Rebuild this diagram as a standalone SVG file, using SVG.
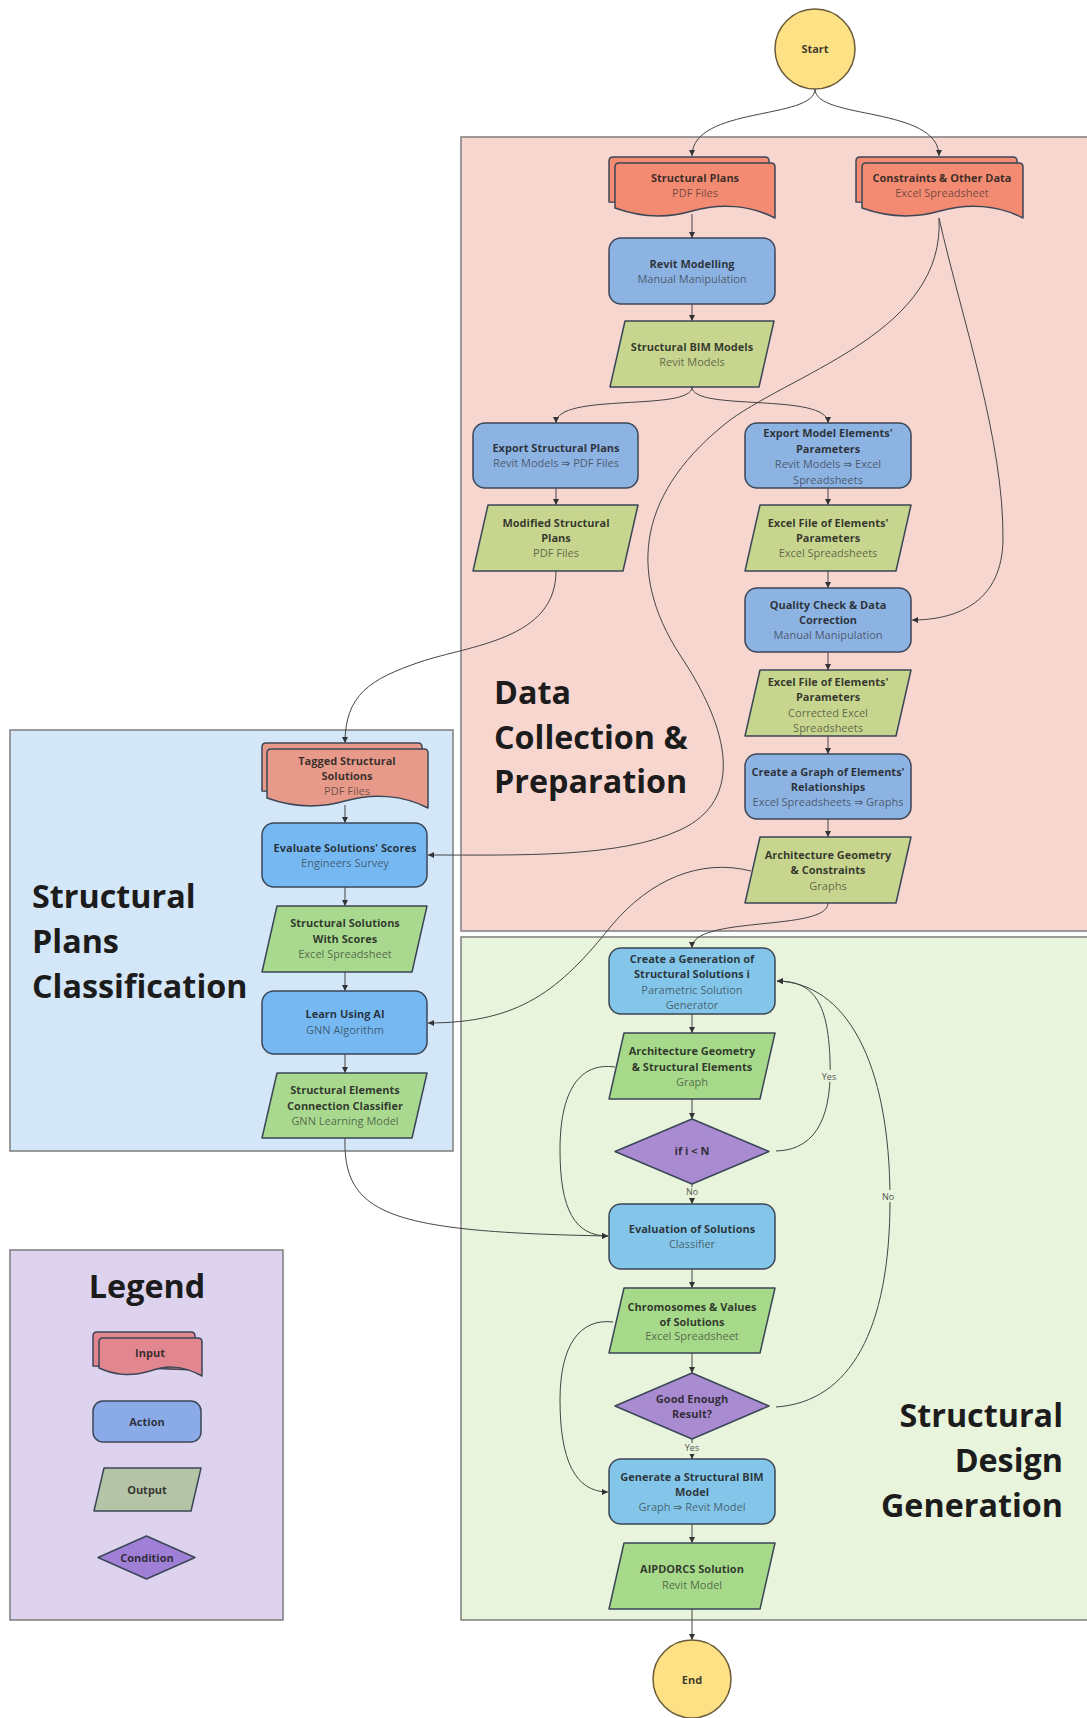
<svg xmlns="http://www.w3.org/2000/svg" width="1087" height="1718" viewBox="0 0 1087 1718">
<defs>
<marker id="arr" viewBox="0 0 6 6" refX="6" refY="3" markerWidth="6" markerHeight="6" markerUnits="userSpaceOnUse" orient="auto">
<path d="M0,0 L6,3 L0,6 Z" fill="#333"/>
</marker>
<style>
.region{stroke:#7d7d7d;stroke-width:1.5}
.title{font-family:"Open Sans","Liberation Sans",sans-serif;font-weight:700;font-size:32.3px;fill:#1c1c1c}
.shape{stroke:#3b4657;stroke-width:1.5;stroke-linejoin:round}
.t{font-family:"Open Sans","Liberation Sans",sans-serif;font-weight:700;font-size:11px;fill:#1a1a1a;fill-opacity:0.85;text-anchor:middle}
.s{font-family:"Open Sans","Liberation Sans",sans-serif;font-size:11px;fill:#1a1a1a;fill-opacity:0.62;text-anchor:middle}
.lbl{font-family:"Open Sans","Liberation Sans",sans-serif;font-size:9px;fill:#555;text-anchor:middle}
.c{fill:none;stroke:#444;stroke-width:1}
.inp{fill:#F38B72}
.inpb{fill:#E89A8A}
.actp{fill:#8DB3E2}
.actb{fill:#76B9F2}
.actg{fill:#84C6E9}
.outp{fill:#C7D58F}
.outb{fill:#A9D98F}
.outg{fill:#A7D98B}
.cond{fill:#A98BD1}
.term{fill:#FDE184;stroke:#6b5b3a;stroke-width:1.5}
</style>
</defs>

<rect width="1087" height="1718" fill="#ffffff"/>

<!-- regions -->
<g id="region-data">
<rect class="region" x="461" y="137" width="627" height="794" fill="#F8D6D0"/>
<text class="title" x="494" y="704">Data</text>
<text class="title" x="494" y="749">Collection &amp;</text>
<text class="title" x="494" y="793">Preparation</text>
</g>
<g id="region-generation">
<rect class="region" x="461" y="937" width="627" height="683" fill="#E8F4DB"/>
<text class="title" x="1063" y="1427" text-anchor="end">Structural</text>
<text class="title" x="1063" y="1472" text-anchor="end">Design</text>
<text class="title" x="1063" y="1517" text-anchor="end">Generation</text>
</g>
<g id="region-classification">
<rect class="region" x="10" y="730" width="443" height="421" fill="#D4E7F9"/>
<text class="title" x="32" y="908">Structural</text>
<text class="title" x="32" y="953">Plans</text>
<text class="title" x="32" y="998">Classification</text>
</g>
<g id="legend">
<rect class="region" x="10" y="1250" width="273" height="370" fill="#DDD3EE"/>
<text class="title" x="147" y="1298" text-anchor="middle">Legend</text>
<g id="legend-input">
<path class="shape" fill="#E2878F" d="M93,1336 Q93,1332 97,1332 L191,1332 Q195,1332 195,1336 L195,1370 L93,1366 Z"/>
<path class="shape" fill="#E2878F" d="M99,1342 Q99,1338 103,1338 L198,1338 Q202,1338 202,1342 L202,1376 C180,1364 165,1366 150,1371 C130,1377 115,1375 99,1368 Z"/>
<text class="t" x="150" y="1357">Input</text>
</g>
<g id="legend-action">
<rect class="shape" fill="#8AAAE8" x="93" y="1401" width="108" height="41" rx="10"/>
<text class="t" x="147" y="1426">Action</text>
</g>
<g id="legend-output">
<path class="shape" fill="#B5C4A6" d="M104,1468 L201,1468 L191,1511 L94,1511 Z"/>
<text class="t" x="147" y="1494">Output</text>
</g>
<g id="legend-condition">
<path class="shape" fill="#A07FD6" d="M146.5,1536 L195,1557.5 L146.5,1579 L98,1557.5 Z"/>
<text class="t" x="147" y="1562">Condition</text>
</g>
</g>

<!-- connectors -->
<g id="connectors">
<path class="c" marker-end="url(#arr)" d="M815,89 C815,120 692,106 692,156"/>
<path class="c" marker-end="url(#arr)" d="M815,89 C815,120 939,106 939,156"/>
<path class="c" marker-end="url(#arr)" d="M692,214 L692,238"/>
<path class="c" marker-end="url(#arr)" d="M692,304 L692,321"/>
<path class="c" marker-end="url(#arr)" d="M692,387 C692,412 556,392 556,423"/>
<path class="c" marker-end="url(#arr)" d="M692,387 C692,412 828,392 828,423"/>
<path class="c" marker-end="url(#arr)" d="M556,488 L556,505"/>
<path class="c" marker-end="url(#arr)" d="M828,488 L828,505"/>
<path class="c" marker-end="url(#arr)" d="M828,571 L828,588"/>
<path class="c" marker-end="url(#arr)" d="M828,652 L828,670"/>
<path class="c" marker-end="url(#arr)" d="M828,736 L828,754"/>
<path class="c" marker-end="url(#arr)" d="M828,819 L828,837"/>
<path class="c" marker-end="url(#arr)" d="M939,218 C962,320 1004,440 1003,540 C1002,600 960,620 912,620"/>
<path class="c" marker-end="url(#arr)" d="M939,218 C945,330 800,370 730,420 C640,490 625,570 680,655 C730,730 745,800 680,830 C620,858 520,855 428,855"/>
<path class="c" marker-end="url(#arr)" d="M556,571 C556,640 470,645 420,662 C370,679 345,695 345,743"/>
<path class="c" marker-end="url(#arr)" d="M345,805 L345,823"/>
<path class="c" marker-end="url(#arr)" d="M345,887 L345,906"/>
<path class="c" marker-end="url(#arr)" d="M345,972 L345,991"/>
<path class="c" marker-end="url(#arr)" d="M345,1054 L345,1073"/>
<path class="c" marker-end="url(#arr)" d="M751,871 C700,858 650,880 612,925 C560,990 520,1023 428,1023"/>
<path class="c" marker-end="url(#arr)" d="M828,903 C828,932 692,915 692,948"/>
<path class="c" marker-end="url(#arr)" d="M692,1014 L692,1033"/>
<path class="c" marker-end="url(#arr)" d="M692,1099 L692,1119"/>
<path class="c" marker-end="url(#arr)" d="M692,1184 L692,1204"/>
<path class="c" marker-end="url(#arr)" d="M692,1269 L692,1288"/>
<path class="c" marker-end="url(#arr)" d="M692,1353 L692,1373"/>
<path class="c" marker-end="url(#arr)" d="M692,1439 L692,1459"/>
<path class="c" marker-end="url(#arr)" d="M692,1524 L692,1543"/>
<path class="c" marker-end="url(#arr)" d="M692,1609 L692,1640"/>
<path class="c" marker-end="url(#arr)" d="M345,1138 C343,1215 390,1232 608,1236"/>
<path class="c" marker-end="url(#arr)" d="M615,1067 C580,1062 560,1090 560,1150 C560,1210 575,1236 608,1236"/>
<path class="c" marker-end="url(#arr)" d="M613,1322 C580,1318 560,1345 560,1400 C560,1460 575,1492 608,1492"/>
<path class="c" marker-end="url(#arr)" d="M776,1151 C820,1150 832,1110 830,1060 C828,1000 812,981 777,981"/>
<path class="c" marker-end="url(#arr)" d="M776,1407 C850,1402 890,1330 890,1200 C890,1060 845,983 777,981"/>
<rect x="820" y="1070" width="19" height="12" fill="#E8F4DB"/>
<text class="lbl" x="829" y="1080">Yes</text>
<rect x="880" y="1190" width="16" height="12" fill="#E8F4DB"/>
<text class="lbl" x="888" y="1200">No</text>
<rect x="684" y="1187" width="16" height="11" fill="#E8F4DB"/>
<text class="lbl" x="692" y="1195">No</text>
<rect x="683" y="1443" width="19" height="11" fill="#E8F4DB"/>
<text class="lbl" x="692" y="1451">Yes</text>
</g>

<!-- nodes -->
<g id="start">
<circle class="term" cx="815" cy="49" r="40"/>
<text class="t" x="815" y="53">Start</text>
</g>
<g id="structural-plans">
<path class="shape inp" d="M609,161 Q609,157 613,157 L765,157 Q769,157 769,161 L769,205 L609,202 Z"/>
<path class="shape inp" d="M615,167 Q615,163 619,163 L771,163 Q775,163 775,167 L775,218 C750,205 720,203 692,211 C665,219 640,217 615,208 Z"/>
<text class="t" x="695" y="182">Structural Plans</text>
<text class="s" x="695" y="197">PDF Files</text>
</g>
<g id="constraints">
<path class="shape inp" d="M856,161 Q856,157 860,157 L1013,157 Q1017,157 1017,161 L1017,205 L856,202 Z"/>
<path class="shape inp" d="M862,167 Q862,163 866,163 L1019,163 Q1023,163 1023,167 L1023,218 C998,205 968,203 940,211 C912,219 887,217 862,208 Z"/>
<text class="t" x="942" y="182">Constraints &amp; Other Data</text>
<text class="s" x="942" y="197">Excel Spreadsheet</text>
</g>
<g id="revit-modelling">
<rect class="shape actp" x="609" y="238" width="166" height="66" rx="12"/>
<text class="t" x="692" y="268">Revit Modelling</text>
<text class="s" x="692" y="283">Manual Manipulation</text>
</g>
<g id="bim-models">
<path class="shape outp" d="M625,321 L774,321 L759,387 L610,387 Z"/>
<text class="t" x="692" y="351">Structural BIM Models</text>
<text class="s" x="692" y="366">Revit Models</text>
</g>
<g id="export-plans">
<rect class="shape actp" x="473" y="423" width="165" height="65" rx="12"/>
<text class="t" x="556" y="452">Export Structural Plans</text>
<text class="s" x="556" y="467">Revit Models ⇒ PDF Files</text>
</g>
<g id="export-params">
<rect class="shape actp" x="745" y="423" width="166" height="65" rx="12"/>
<text class="t" x="828" y="437">Export Model Elements'</text>
<text class="t" x="828" y="453">Parameters</text>
<text class="s" x="828" y="468">Revit Models ⇒ Excel</text>
<text class="s" x="828" y="484">Spreadsheets</text>
</g>
<g id="modified-plans">
<path class="shape outp" d="M488,505 L638,505 L623,571 L473,571 Z"/>
<text class="t" x="556" y="527">Modified Structural</text>
<text class="t" x="556" y="542">Plans</text>
<text class="s" x="556" y="557">PDF Files</text>
</g>
<g id="excel-params">
<path class="shape outp" d="M760,505 L911,505 L896,571 L745,571 Z"/>
<text class="t" x="828" y="527">Excel File of Elements'</text>
<text class="t" x="828" y="542">Parameters</text>
<text class="s" x="828" y="557">Excel Spreadsheets</text>
</g>
<g id="quality-check">
<rect class="shape actp" x="745" y="588" width="166" height="64" rx="12"/>
<text class="t" x="828" y="609">Quality Check &amp; Data</text>
<text class="t" x="828" y="624">Correction</text>
<text class="s" x="828" y="639">Manual Manipulation</text>
</g>
<g id="excel-corrected">
<path class="shape outp" d="M760,670 L911,670 L896,736 L745,736 Z"/>
<text class="t" x="828" y="686">Excel File of Elements'</text>
<text class="t" x="828" y="701">Parameters</text>
<text class="s" x="828" y="717">Corrected Excel</text>
<text class="s" x="828" y="732">Spreadsheets</text>
</g>
<g id="create-graph">
<rect class="shape actp" x="745" y="754" width="166" height="65" rx="12"/>
<text class="t" x="828" y="776">Create a Graph of Elements'</text>
<text class="t" x="828" y="791">Relationships</text>
<text class="s" x="828" y="806">Excel Spreadsheets ⇒ Graphs</text>
</g>
<g id="arch-constraints">
<path class="shape outp" d="M760,837 L911,837 L896,903 L745,903 Z"/>
<text class="t" x="828" y="859">Architecture Geometry</text>
<text class="t" x="828" y="874">&amp; Constraints</text>
<text class="s" x="828" y="890">Graphs</text>
</g>
<g id="tagged-solutions">
<path class="shape inpb" d="M262,747 Q262,743 266,743 L418,743 Q422,743 422,747 L422,794 L262,791 Z"/>
<path class="shape inpb" d="M267,753 Q267,749 271,749 L424,749 Q428,749 428,753 L428,808 C403,795 373,793 345,801 C317,809 292,807 267,798 Z"/>
<text class="t" x="347" y="765">Tagged Structural</text>
<text class="t" x="347" y="780">Solutions</text>
<text class="s" x="347" y="795">PDF Files</text>
</g>
<g id="evaluate-scores">
<rect class="shape actb" x="262" y="823" width="165" height="64" rx="12"/>
<text class="t" x="345" y="852">Evaluate Solutions' Scores</text>
<text class="s" x="345" y="867">Engineers Survey</text>
</g>
<g id="solutions-scores">
<path class="shape outb" d="M277,906 L427,906 L412,972 L262,972 Z"/>
<text class="t" x="345" y="927">Structural Solutions</text>
<text class="t" x="345" y="943">With Scores</text>
<text class="s" x="345" y="958">Excel Spreadsheet</text>
</g>
<g id="learn-ai">
<rect class="shape actb" x="262" y="991" width="165" height="63" rx="12"/>
<text class="t" x="345" y="1018">Learn Using AI</text>
<text class="s" x="345" y="1034">GNN Algorithm</text>
</g>
<g id="classifier">
<path class="shape outb" d="M277,1073 L427,1073 L412,1138 L262,1138 Z"/>
<text class="t" x="345" y="1094">Structural Elements</text>
<text class="t" x="345" y="1110">Connection Classifier</text>
<text class="s" x="345" y="1125">GNN Learning Model</text>
</g>
<g id="create-generation">
<rect class="shape actg" x="609" y="948" width="166" height="66" rx="12"/>
<text class="t" x="692" y="963">Create a Generation of</text>
<text class="t" x="692" y="978">Structural Solutions i</text>
<text class="s" x="692" y="994">Parametric Solution</text>
<text class="s" x="692" y="1009">Generator</text>
</g>
<g id="arch-structural">
<path class="shape outg" d="M624,1033 L775,1033 L760,1099 L609,1099 Z"/>
<text class="t" x="692" y="1055">Architecture Geometry</text>
<text class="t" x="692" y="1071">&amp; Structural Elements</text>
<text class="s" x="692" y="1086">Graph</text>
</g>
<g id="if-i-n">
<path class="shape cond" d="M692,1119 L769,1151.5 L692,1184 L615,1151.5 Z"/>
<text class="t" x="692" y="1155">if i &lt; N</text>
</g>
<g id="evaluation">
<rect class="shape actg" x="609" y="1204" width="166" height="65" rx="12"/>
<text class="t" x="692" y="1233">Evaluation of Solutions</text>
<text class="s" x="692" y="1248">Classifier</text>
</g>
<g id="chromosomes">
<path class="shape outg" d="M624,1288 L775,1288 L760,1353 L609,1353 Z"/>
<text class="t" x="692" y="1311">Chromosomes &amp; Values</text>
<text class="t" x="692" y="1326">of Solutions</text>
<text class="s" x="692" y="1340">Excel Spreadsheet</text>
</g>
<g id="good-enough">
<path class="shape cond" d="M692,1373 L769,1406 L692,1439 L615,1406 Z"/>
<text class="t" x="692" y="1403">Good Enough</text>
<text class="t" x="692" y="1418">Result?</text>
</g>
<g id="generate-bim">
<rect class="shape actg" x="609" y="1459" width="166" height="65" rx="12"/>
<text class="t" x="692" y="1481">Generate a Structural BIM</text>
<text class="t" x="692" y="1496">Model</text>
<text class="s" x="692" y="1511">Graph ⇒ Revit Model</text>
</g>
<g id="aipdorcs">
<path class="shape outg" d="M624,1543 L775,1543 L760,1609 L609,1609 Z"/>
<text class="t" x="692" y="1573">AIPDORCS Solution</text>
<text class="s" x="692" y="1589">Revit Model</text>
</g>
<g id="end">
<circle class="term" cx="692" cy="1679" r="39"/>
<text class="t" x="692" y="1684">End</text>
</g>
</svg>
